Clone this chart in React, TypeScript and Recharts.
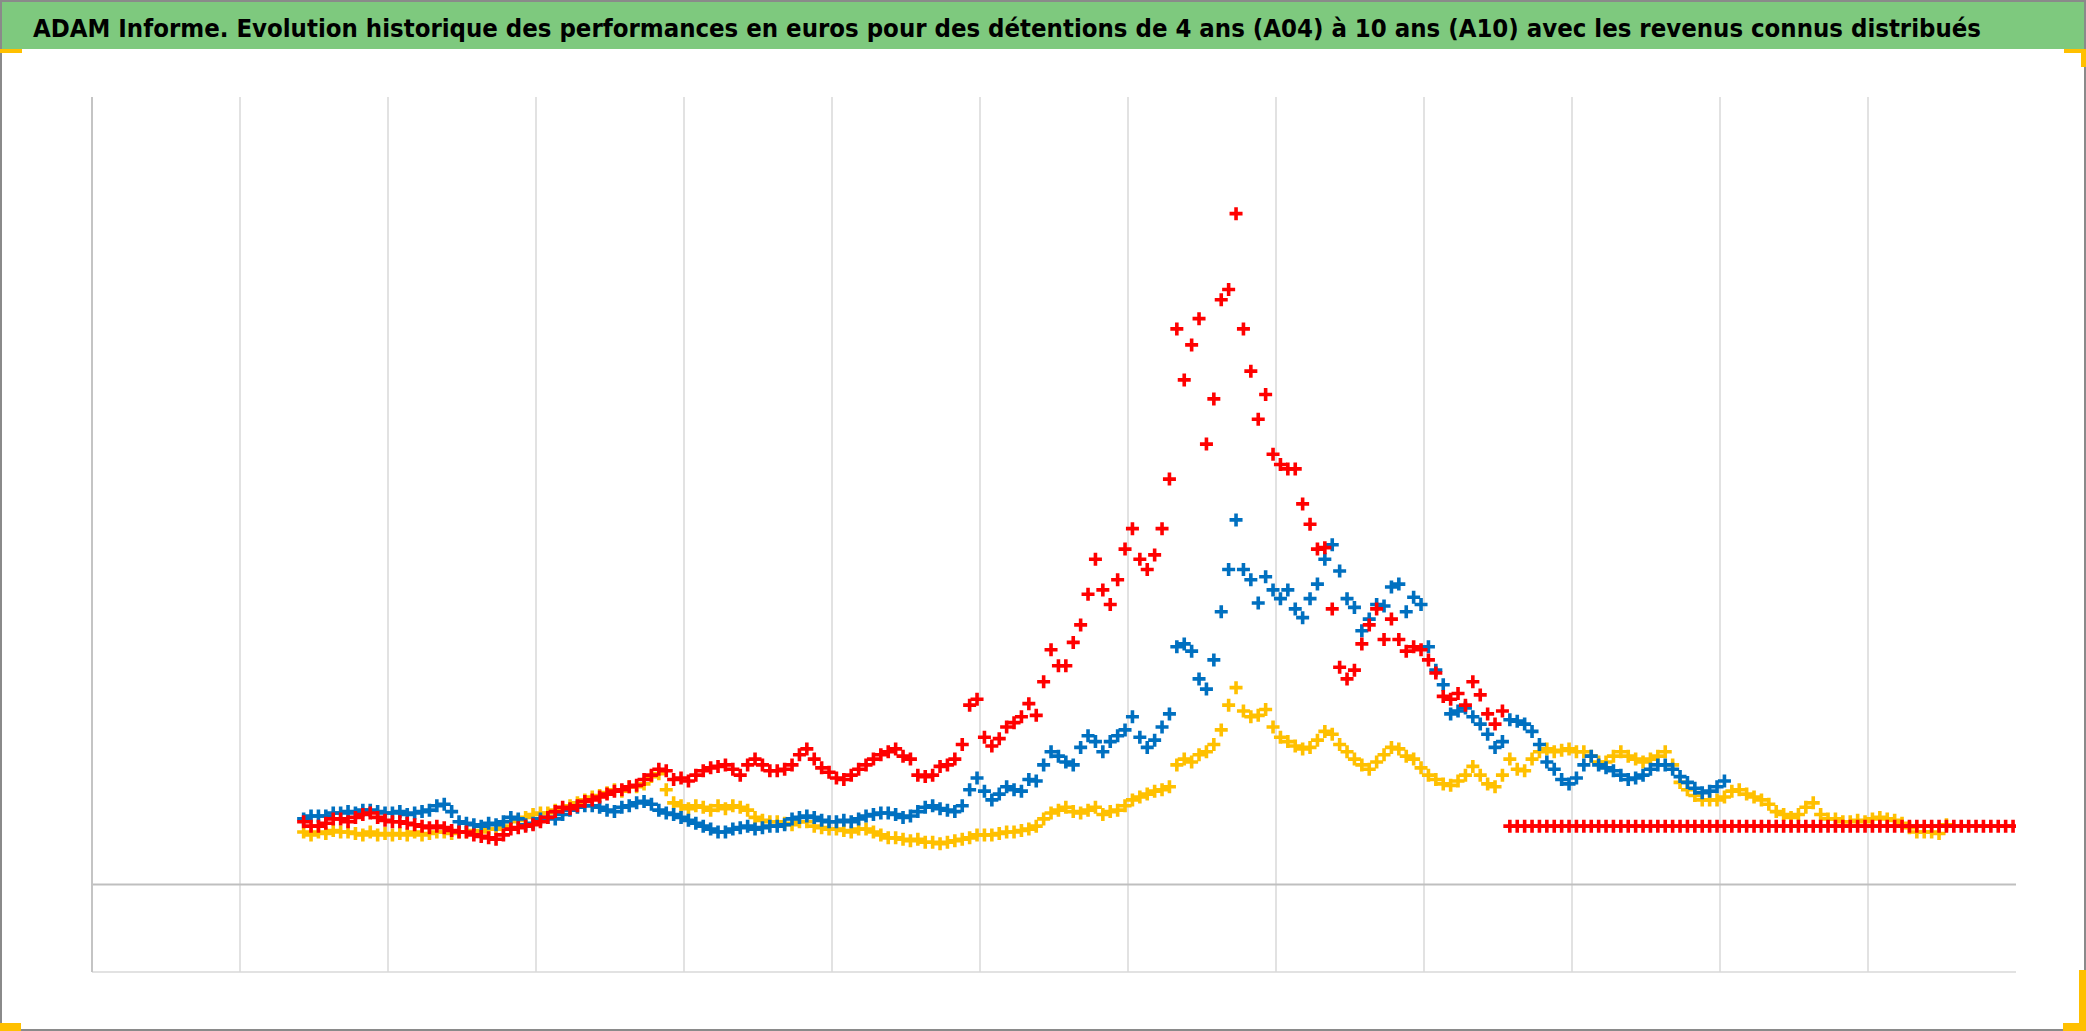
import React from 'react';
import { ScatterChart, Scatter, XAxis, YAxis, CartesianGrid, ReferenceLine } from 'recharts';

const TITLE =
  'ADAM Informe. Evolution historique des performances en euros pour des détentions de 4 ans (A04) à 10 ans (A10) avec les revenus connus distribués';

// x is a time index (years from the axis origin); one reading every 0.05 year
const X_START = 1.43;
const X_STEP = 0.05;
const X_DOMAIN: [number, number] = [0, 13];
const Y_DOMAIN: [number, number] = [-60, 540];
const verticalGridValues = [1, 2, 3, 4, 5, 6, 7, 8, 9, 10, 11, 12];
const horizontalGridValues = [140, 240, 340, 440, 540, -60];

const yellowValues = [
  36, 34, 36, 35, 37, 36, 36, 35, 34, 36,
  34, 35, 34, 35, 34, 36, 34, 35, 36, 36,
  35, 36, 36, 37, 36, 38, 38, 40, 43, 44,
  46, 48, 49, 49, 51, 51, 54, 56, 58, 60,
  61, 63, 65, 64, 67, 67, 69, 74, 76, 65,
  56, 54, 52, 54, 53, 51, 54, 52, 54, 53,
  51, 46, 44, 43, 43, 42, 41, 43, 43, 40,
  39, 38, 38, 37, 36, 38, 38, 36, 34, 32,
  32, 31, 30, 31, 29, 29, 28, 29, 30, 31,
  32, 34, 34, 34, 35, 36, 36, 37, 38, 40,
  45, 49, 51, 53, 50, 49, 51, 53, 48, 50,
  51, 54, 58, 60, 62, 64, 65, 67, 82, 86,
  84, 89, 91, 96, 106, 123, 135, 119, 115, 116,
  120, 108, 101, 98, 95, 93, 94, 99, 105, 103,
  96, 91, 86, 82, 79, 84, 89, 94, 93, 88,
  86, 80, 75, 72, 69, 68, 71, 75, 81, 75,
  69, 67, 75, 86, 79, 78, 86, 91, 93, 91,
  92, 93, 91, 91, 88, 84, 84, 88, 91, 88,
  86, 84, 86, 88, 91, 82, 70, 65, 61, 58,
  58, 58, 60, 64, 65, 62, 60, 58, 55, 50,
  48, 46, 48, 53, 56, 48, 45, 45, 43, 43,
  44, 43, 45, 46, 45, 44, 42, 39, 36, 36,
  36, 35, 41,
];

const blueValues = [
  45, 47, 47, 47, 49, 49, 50, 49, 51, 51,
  50, 49, 49, 50, 48, 49, 50, 51, 54, 55,
  50, 43, 42, 41, 40, 42, 41, 43, 46, 45,
  41, 42, 45, 46, 45, 48, 51, 53, 54, 54,
  53, 51, 50, 53, 54, 56, 57, 55, 51, 49,
  48, 46, 44, 42, 40, 38, 36, 36, 38, 39,
  40, 38, 39, 40, 40, 41, 45, 46, 47, 46,
  44, 43, 43, 44, 43, 45, 47, 48, 49, 49,
  48, 46, 47, 50, 53, 54, 52, 51, 50, 54,
  65, 73, 64, 58, 62, 67, 65, 64, 72, 71,
  82, 91, 88, 84, 82, 94, 102, 98, 91, 98,
  102, 106, 115, 101, 94, 99, 108, 117, 163, 165,
  160, 141, 134, 154, 187, 216, 250, 216, 209, 193,
  211, 202, 196, 202, 189, 183, 196, 206, 223, 233,
  215, 196, 190, 174, 182, 192, 191, 204, 206, 187,
  197, 192, 163, 147, 137, 117, 119, 121, 115, 110,
  103, 94, 98, 113, 112, 110, 105, 96, 84, 79,
  72, 69, 73, 82, 88, 82, 80, 78, 75, 72,
  73, 75, 79, 82, 82, 79, 74, 70, 66, 63,
  64, 67, 71,
];

const redValues = [
  43, 40, 40, 42, 45, 45, 43, 46, 48, 49,
  46, 44, 43, 43, 42, 41, 40, 39, 40, 39,
  37, 36, 36, 34, 33, 32, 31, 34, 38, 39,
  40, 41, 43, 46, 50, 53, 52, 54, 57, 58,
  60, 62, 64, 65, 67, 68, 72, 75, 79, 78,
  72, 73, 71, 75, 78, 80, 81, 82, 79, 75,
  82, 86, 82, 78, 78, 79, 82, 89, 93, 86,
  80, 77, 73, 72, 75, 79, 82, 86, 89, 91,
  93, 88, 86, 75, 74, 75, 81, 82, 86, 96,
  123, 127, 101, 95, 100, 108, 111, 115, 124, 116,
  139, 161, 150, 150, 166, 178, 199, 223, 202, 192,
  209, 230, 244, 223, 216, 226, 244, 278, 381, 346,
  370, 388, 302, 333, 401, 408, 460, 381, 352, 319,
  336, 295, 288, 285, 285, 261, 247, 230, 231, 189,
  149, 141, 147, 165, 178, 189, 168, 182, 168, 160,
  163, 161, 154, 145, 129, 127, 131, 123, 139, 130,
  117, 110, 119,
  // flat part (no completed 10-year holding yet)
  40, 40, 40, 40, 40, 40, 40, 40, 40, 40,
  40, 40, 40, 40, 40, 40, 40, 40, 40, 40,
  40, 40, 40, 40, 40, 40, 40, 40, 40, 40,
  40, 40, 40, 40, 40, 40, 40, 40, 40, 40,
  40, 40, 40, 40, 40, 40, 40, 40, 40, 40,
  40, 40, 40, 40, 40, 40, 40, 40, 40, 40,
  40, 40, 40, 40, 40, 40, 40, 40, 40,
];

const toPoints = (vals: number[]) => vals.map((y, i) => ({ x: X_START + i * X_STEP, y }));

const yellowData = toPoints(yellowValues);
const blueData = toPoints(blueValues);
const redData = toPoints(redValues);

const plusShape = (color: string) => (props: any) => {
  const { cx, cy } = props;
  if (cx == null || cy == null || isNaN(cx) || isNaN(cy)) return <g />;
  const s = 6.5;
  return (
    <path
      d={`M${cx - s},${cy}H${cx + s}M${cx},${cy - s}V${cy + s}`}
      stroke={color}
      strokeWidth={3.6}
      fill="none"
    />
  );
};

const YELLOW = '#FFC000';
const BLUE = '#0070C0';
const RED = '#FF0000';

const handle: React.CSSProperties = { position: 'absolute', background: '#FFC000' };

export default function App() {
  return (
    <div
      style={{
        position: 'absolute',
        left: 0,
        top: 0,
        width: 2086,
        height: 1031,
        background: '#ffffff',
        overflow: 'hidden',
      }}
    >
      <div
        style={{
          position: 'absolute',
          left: 0,
          top: 0,
          width: 2086,
          height: 49,
          background: '#7EC97E',
        }}
      >
        <svg width={2086} height={49} style={{ position: 'absolute', left: 0, top: 0, overflow: 'visible' }}>
          <text
            x={33}
            y={37}
            textLength={1948}
            lengthAdjust="spacingAndGlyphs"
            fontFamily="'Liberation Sans Narrow', 'DejaVu Sans Condensed', 'Open Sans', sans-serif"
            fontWeight="bold"
            fontSize={25}
            fill="#000000"
          >
            {TITLE}
          </text>
        </svg>
      </div>

      <div style={{ position: 'absolute', left: 0, top: 0 }}>
        <ScatterChart
          width={2086}
          height={1031}
          margin={{ top: 97, left: 92, right: 70, bottom: 59 }}
        >
          <CartesianGrid
            stroke="#d9d9d9"
            strokeWidth={1.5}
            verticalValues={verticalGridValues}
            horizontalValues={horizontalGridValues}
          />
          <XAxis type="number" dataKey="x" domain={X_DOMAIN} hide allowDataOverflow />
          <YAxis type="number" dataKey="y" domain={Y_DOMAIN} hide allowDataOverflow />
          <ReferenceLine y={0} stroke="#bfbfbf" strokeWidth={2} />
          <ReferenceLine x={0} stroke="#c4c4c4" strokeWidth={2} />
          <Scatter data={yellowData} shape={plusShape(YELLOW)} isAnimationActive={false} />
          <Scatter data={blueData} shape={plusShape(BLUE)} isAnimationActive={false} />
          <Scatter data={redData} shape={plusShape(RED)} isAnimationActive={false} />
        </ScatterChart>
      </div>

      <div
        style={{
          position: 'absolute',
          left: 0,
          top: 0,
          width: 2086,
          height: 1031,
          boxSizing: 'border-box',
          border: '2px solid #8a8a8a',
          pointerEvents: 'none',
        }}
      />
      <div style={{ ...handle, left: 0, top: 49, width: 22, height: 4 }} />
      <div style={{ ...handle, left: 2064, top: 49, width: 22, height: 4 }} />
      <div style={{ ...handle, left: 2081, top: 49, width: 5, height: 18 }} />
      <div style={{ ...handle, left: 0, top: 1023, width: 21, height: 8 }} />
      <div style={{ ...handle, left: 2079, top: 970, width: 7, height: 61 }} />
      <div style={{ ...handle, left: 2063, top: 1023, width: 23, height: 8 }} />
    </div>
  );
}
